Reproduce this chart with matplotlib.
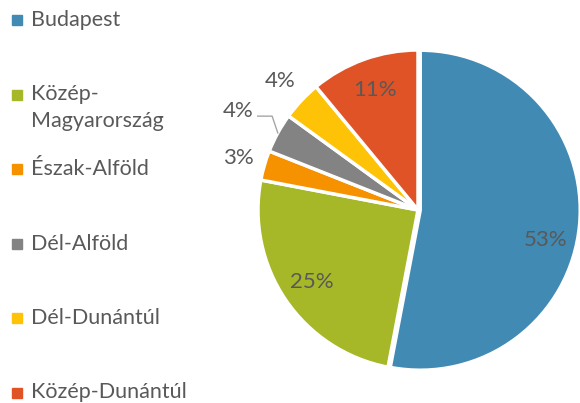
import numpy as np
import matplotlib.pyplot as plt

regions = ["Budapest", "Közép-\nMagyarország", "Észak-Alföld", "Dél-Alföld",
           "Dél-Dunántúl", "Közép-Dunántúl"]
shares = [53, 25, 3, 4, 4, 11]
colors = ["#418AB3", "#A6B727", "#F69200", "#838383", "#FEC306", "#DF5327"]

# label distance from centre (in radii) for each slice
label_r = [0.80, 0.80, 1.17, 1.28, 1.18, 0.80]
text_color = "#595959"

plt.rcParams['font.family'] = ['Lato', 'DejaVu Sans']

W, H = 580, 403
fig = plt.figure(figsize=(W / 100, H / 100), dpi=100)

# pie axes: centre (418, 210) px, radius 160 px
cx, cy, R = 418, 210, 160
ax = fig.add_axes([(cx - R) / W, (H - cy - R) / H, 2 * R / W, 2 * R / H])
wedges, _ = ax.pie(shares, colors=colors, startangle=90, counterclock=False,
                   explode=[0.014, 0, 0, 0, 0, 0],
                   wedgeprops=dict(edgecolor="white", linewidth=2.5))
ax.set_xlim(-1, 1)
ax.set_ylim(-1, 1)
ax.set_aspect("equal")
ax.axis("off")

for w, v, r in zip(wedges, shares, label_r):
    mid = np.deg2rad((w.theta1 + w.theta2) / 2)
    x, y = r * np.cos(mid), r * np.sin(mid)
    if v == 53:
        y -= 0.11
    ax.text(x, y, f"{v}%", ha="center", va="center", fontsize=16,
            color=text_color, clip_on=False)
    if r > 1.25:
        # leader line to the small slice
        sx, sy = 1.0 * np.cos(mid), 1.0 * np.sin(mid)
        ax.plot([x + 0.12, x + 0.21, sx], [y - 0.03, y - 0.03, sy],
                color="#A6A6A6", lw=1, clip_on=False)

# legend on the left
lax = fig.add_axes([0, 0, 1, 1])
lax.set_xlim(0, W)
lax.set_ylim(H, 0)
lax.axis("off")
for i, (name, c) in enumerate(zip(regions, colors)):
    y = 20 + 74.5 * i
    lax.plot(17, y, marker="s", ms=6.5, color=c, mec=c)
    lax.text(31, y - 10, name, ha="left", va="top", fontsize=15.5,
             color=text_color, linespacing=1.4)

fig.savefig("out.png", dpi=100)
